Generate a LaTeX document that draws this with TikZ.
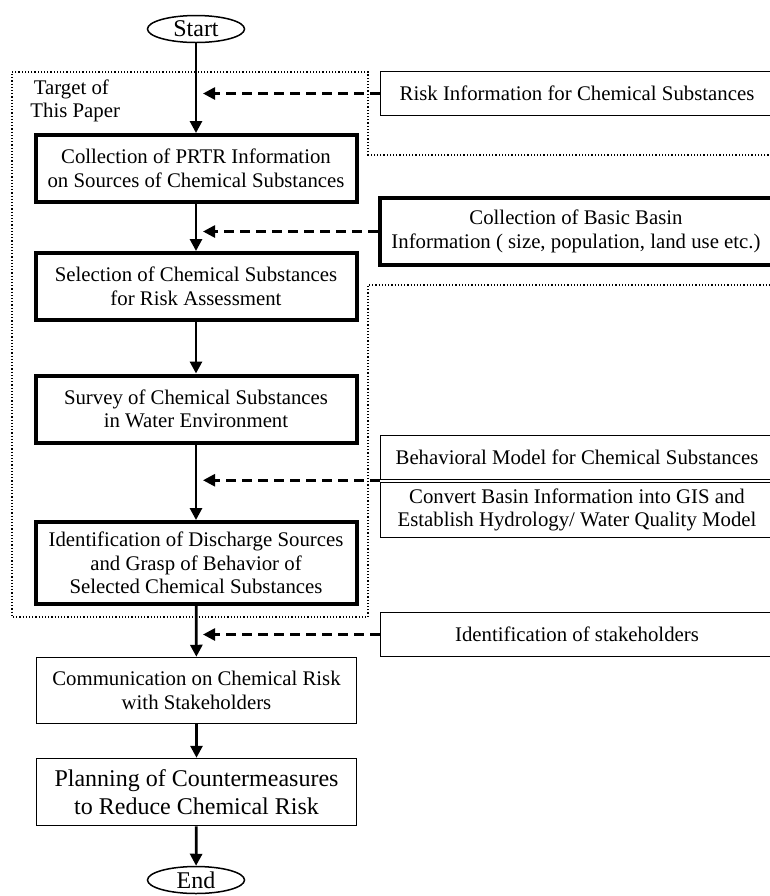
\documentclass[tikz,border=0pt]{standalone}
\usepackage{fontspec}
\setmainfont{Liberation Serif}
\usetikzlibrary{arrows.meta,shapes.geometric}

\tikzset{
  bold/.style={draw, line width=2pt, align=center, inner sep=1pt,
    font=\fontsize{10.4}{11.8}\selectfont},
  plain/.style={draw, line width=0.75pt, align=center, inner sep=1pt,
    font=\fontsize{10.4}{11.8}\selectfont},
  term/.style={draw, ellipse, line width=0.75pt, inner sep=0pt,
    minimum width=48.5pt, minimum height=13.5pt, font=\fontsize{12}{14}\selectfont},
  flow/.style={-{Triangle[length=6pt,width=6pt]}, line width=1.4pt},
  feed/.style={-{Triangle[length=6pt,width=6pt]}, line width=1.3pt, dash pattern=on 5pt off 3pt},
  target/.style={line width=0.6pt, densely dotted}
}

\begin{document}
\begin{tikzpicture}[x=0.5pt, y=-0.5pt]
  \useasboundingbox (0,0) rectangle (770,896);

  \node[term] (start) at (196,29) {Start};
  \node[bold, minimum width=160.5pt, minimum height=33.5pt] (prtr) at (196,168.5)
    {Collection of PRTR Information\\on Sources of Chemical Substances};
  \node[bold, minimum width=160.5pt, minimum height=33.5pt] (select) at (196,286.5)
    {Selection of Chemical Substances\\for Risk Assessment};
  \node[bold, minimum width=160.5pt, minimum height=33.5pt] (survey) at (196,409)
    {Survey of Chemical Substances\\in Water Environment};
  \node[bold, minimum width=160.5pt, minimum height=41pt] (ident) at (196,563)
    {Identification of Discharge Sources\\and Grasp of Behavior of\\Selected Chemical Substances};
  \node[plain, minimum width=160pt, minimum height=33pt] (comm) at (196.5,690.5)
    {Communication on Chemical Risk\\with Stakeholders};
  \node[plain, minimum width=160pt, minimum height=33.5pt, font=\fontsize{12}{14}\selectfont] (plan) at (196.5,792)
    {Planning of Countermeasures\\to Reduce Chemical Risk};
  \node[term] (end) at (196,880) {End};

  \node[plain, minimum width=196.5pt, minimum height=22pt] (risk) at (577,93.5)
    {Risk Information for Chemical Substances};
  \node[bold, minimum width=196.5pt, minimum height=33.5pt] (basin) at (576,231.5)
    {Collection of Basic Basin\\Information ( size, population, land use etc.)};
  \node[plain, minimum width=196.5pt, minimum height=22pt] (behav) at (577,457.5)
    {Behavioral Model for Chemical Substances};
  \node[plain, minimum width=196.5pt, minimum height=27.5pt] (conv) at (577,510)
    {Convert Basin Information into GIS and\\Establish Hydrology/ Water Quality Model};
  \node[plain, minimum width=196.5pt, minimum height=22pt] (stake) at (577,634.5)
    {Identification of stakeholders};

  \node[align=left, anchor=north west, inner sep=0pt, font=\fontsize{10.4}{11.8}\selectfont]
    (tlabel) at (30,79) {\,Target of\\This Paper};
  \draw[target] (775,155) -- (368,155) |- (12,72) |- (368,617) -- (368,285) -- (775,285);

  \coordinate (tip) at (203,0);

  \path[flow]
    (start) edge (prtr)
    (prtr) edge (select)
    (select) edge (survey)
    (survey) edge (ident)
    (ident) edge (comm)
    (comm) edge (plan)
    (plan) edge (end);
  \draw[feed] (risk.west) -- (risk.west -| tip);
  \draw[feed] (basin.west) -- (basin.west -| tip);
  \draw[feed] (behav.south west) -- (behav.south west -| tip);
  \draw[feed] (stake.west) -- (stake.west -| tip);
\end{tikzpicture}
\end{document}
